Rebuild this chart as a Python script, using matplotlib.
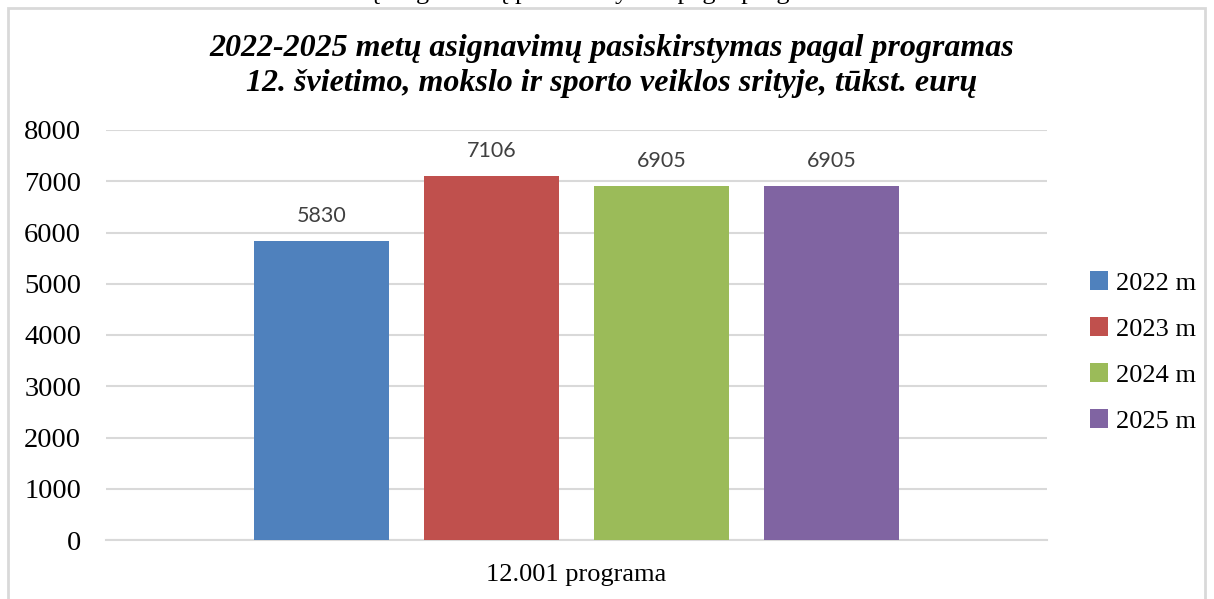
import matplotlib.pyplot as plt
from matplotlib.patches import Rectangle

# data
category = "12.001 programa"
years = ["2022 m", "2023 m", "2024 m", "2025 m"]
values = [5830, 7106, 6905, 6905]
colors = ["#4F81BD", "#C0504D", "#9BBB59", "#8064A2"]

title = ("2022-2025 metų asignavimų pasiskirstymas pagal programas\n"
         "12. švietimo, mokslo ir sporto veiklos srityje, tūkst. eurų")

W, H = 1214, 599
fig = plt.figure(figsize=(W / 100, H / 100), dpi=100)
serif = "Liberation Serif"

# plot area in pixels of the reference
x0, x1, y0, y1 = 106, 1047, 540, 130
ax = fig.add_axes([x0 / W, 1 - y0 / H, (x1 - x0) / W, (y0 - y1) / H])

span = x1 - x0
step = 170 / span
width = 135 / span
n = len(values)
for i, (yr, v, c) in enumerate(zip(years, values, colors)):
    pos = (i - (n - 1) / 2) * step
    ax.bar(pos, v, width=width, color=c, label=yr, zorder=3)
    ax.annotate(str(v), (pos, v), xytext=(0, 11), textcoords="offset points",
                ha="center", va="bottom", fontsize=15.5, color="#404040",
                family="Lato")

ax.set_xlim(-0.5, 0.5)
ax.set_ylim(0, 8000)
ax.set_yticks(range(0, 8001, 1000))
ax.set_xticks([])
ax.yaxis.grid(True, color="#d9d9d9", lw=1.5, zorder=0)
ax.tick_params(axis="y", length=0, pad=18, labelsize=20.5)
for lab in ax.get_yticklabels():
    lab.set_family(serif)
for s in ["top", "right", "left"]:
    ax.spines[s].set_visible(False)
ax.spines["bottom"].set_color("#d9d9d9")
ax.spines["bottom"].set_linewidth(1.5)

ax.text(0, -0.085, category, transform=ax.get_xaxis_transform(),
        ha="center", va="center", fontsize=19, family=serif)

leg = fig.legend(loc="center left", bbox_to_anchor=(1066 / W, 1 - 352 / H),
                 frameon=False, prop={"family": serif, "size": 19},
                 handlelength=0.7, handleheight=0.7, handletextpad=0.3,
                 labelspacing=0.85)

fig.text(612 / W, 1 - 66 / H, title, ha="center", va="center", fontsize=23,
         family=serif, weight="bold", style="italic", linespacing=1.3)

# chart frame and clipped document text above it
fig.patches.append(Rectangle((8 / W, -0.1), (1205 - 8) / W, 1.1 - 8 / H,
                             transform=fig.transFigure, fill=False,
                             edgecolor="#d9d9d9", lw=2))
fig.text(590 / W, 1 + 1 / H, "metų asignavimų pasiskirstymas pagal programas",
         ha="center", va="baseline", fontsize=19, family=serif)

fig.savefig("out.png", dpi=100)
